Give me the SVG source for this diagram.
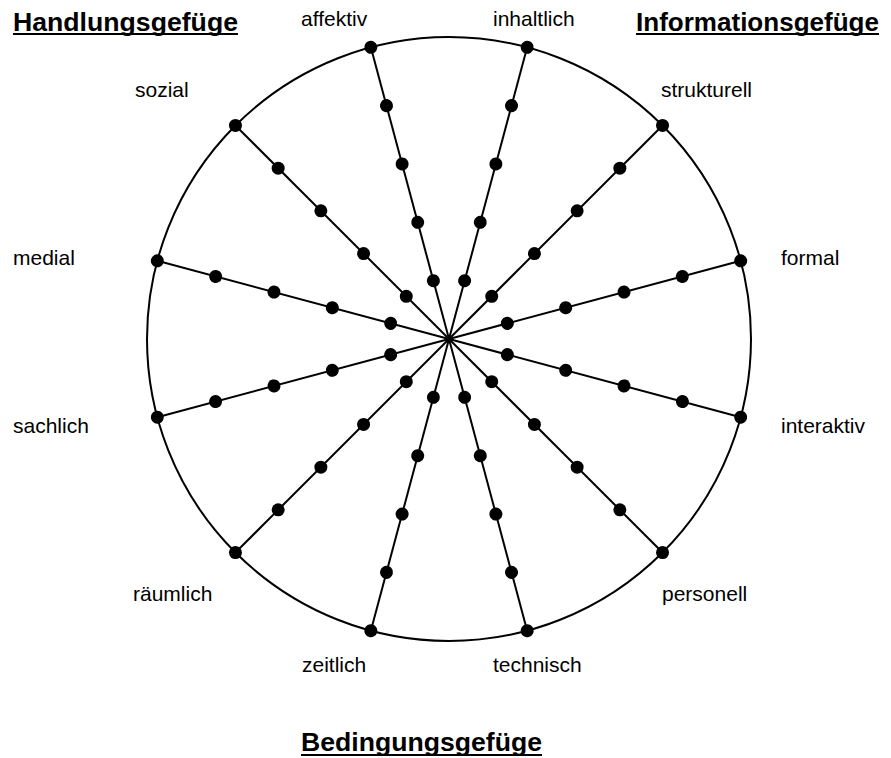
<svg xmlns="http://www.w3.org/2000/svg" xmlns:xlink="http://www.w3.org/1999/xlink" width="891" height="758" viewBox="0 0 891 758">
  <style>
    .ln { stroke: #000; stroke-width: 2; fill: none; }
    .dot { fill: #000; }
    .lbl { font-family: "Liberation Sans", Arial, sans-serif; font-size: 21px; fill: #000; }
    .ttl { font-family: "Liberation Sans", Arial, sans-serif; font-size: 26px; font-weight: bold; fill: #000; }
    .ul { stroke: #000; stroke-width: 2.2; }
  </style>
  <defs>
    <g id="dots">
      <circle class="dot" cx="60.4" cy="0" r="6.5"/>
      <circle class="dot" cx="120.8" cy="0" r="6.5"/>
      <circle class="dot" cx="181.2" cy="0" r="6.5"/>
      <circle class="dot" cx="241.6" cy="0" r="6.5"/>
      <circle class="dot" cx="302" cy="0" r="6.5"/>
    </g>
  </defs>
  <rect width="891" height="758" fill="#fff"/>

  <g id="connectors" transform="translate(449,339)">
    <circle class="ln" cx="0" cy="0" r="302"/>
    <line class="ln" x1="0" y1="0" x2="302" y2="0" transform="rotate(-15)"/>
    <line class="ln" x1="0" y1="0" x2="302" y2="0" transform="rotate(-45)"/>
    <line class="ln" x1="0" y1="0" x2="302" y2="0" transform="rotate(-75)"/>
    <line class="ln" x1="0" y1="0" x2="302" y2="0" transform="rotate(-105)"/>
    <line class="ln" x1="0" y1="0" x2="302" y2="0" transform="rotate(-135)"/>
    <line class="ln" x1="0" y1="0" x2="302" y2="0" transform="rotate(-165)"/>
    <line class="ln" x1="0" y1="0" x2="302" y2="0" transform="rotate(-195)"/>
    <line class="ln" x1="0" y1="0" x2="302" y2="0" transform="rotate(-225)"/>
    <line class="ln" x1="0" y1="0" x2="302" y2="0" transform="rotate(-255)"/>
    <line class="ln" x1="0" y1="0" x2="302" y2="0" transform="rotate(-285)"/>
    <line class="ln" x1="0" y1="0" x2="302" y2="0" transform="rotate(-315)"/>
    <line class="ln" x1="0" y1="0" x2="302" y2="0" transform="rotate(-345)"/>
  </g>

  <g id="formal">
    <use xlink:href="#dots" href="#dots" transform="translate(449,339) rotate(-15)"/>
    <text class="lbl" x="781" y="265">formal</text>
  </g>
  <g id="strukturell">
    <use xlink:href="#dots" href="#dots" transform="translate(449,339) rotate(-45)"/>
    <text class="lbl" x="661" y="97">strukturell</text>
  </g>
  <g id="inhaltlich">
    <use xlink:href="#dots" href="#dots" transform="translate(449,339) rotate(-75)"/>
    <text class="lbl" x="493" y="26">inhaltlich</text>
  </g>
  <g id="affektiv">
    <use xlink:href="#dots" href="#dots" transform="translate(449,339) rotate(-105)"/>
    <text class="lbl" x="301" y="26">affektiv</text>
  </g>
  <g id="sozial">
    <use xlink:href="#dots" href="#dots" transform="translate(449,339) rotate(-135)"/>
    <text class="lbl" x="135" y="97">sozial</text>
  </g>
  <g id="medial">
    <use xlink:href="#dots" href="#dots" transform="translate(449,339) rotate(-165)"/>
    <text class="lbl" x="13" y="265">medial</text>
  </g>
  <g id="sachlich">
    <use xlink:href="#dots" href="#dots" transform="translate(449,339) rotate(-195)"/>
    <text class="lbl" x="13" y="433">sachlich</text>
  </g>
  <g id="raeumlich">
    <use xlink:href="#dots" href="#dots" transform="translate(449,339) rotate(-225)"/>
    <text class="lbl" x="133" y="601">räumlich</text>
  </g>
  <g id="zeitlich">
    <use xlink:href="#dots" href="#dots" transform="translate(449,339) rotate(-255)"/>
    <text class="lbl" x="302" y="672">zeitlich</text>
  </g>
  <g id="technisch">
    <use xlink:href="#dots" href="#dots" transform="translate(449,339) rotate(-285)"/>
    <text class="lbl" x="493" y="672">technisch</text>
  </g>
  <g id="personell">
    <use xlink:href="#dots" href="#dots" transform="translate(449,339) rotate(-315)"/>
    <text class="lbl" x="662" y="601">personell</text>
  </g>
  <g id="interaktiv">
    <use xlink:href="#dots" href="#dots" transform="translate(449,339) rotate(-345)"/>
    <text class="lbl" x="781" y="433">interaktiv</text>
  </g>

  <g id="title-handlung">
    <text class="ttl" x="13" y="31" textLength="225" lengthAdjust="spacingAndGlyphs">Handlungsgefüge</text>
    <line class="ul" x1="13" y1="34" x2="238" y2="34"/>
  </g>
  <g id="title-information">
    <text class="ttl" x="636" y="31" textLength="243" lengthAdjust="spacingAndGlyphs">Informationsgefüge</text>
    <line class="ul" x1="636" y1="34" x2="879" y2="34"/>
  </g>
  <g id="title-bedingung">
    <text class="ttl" x="301" y="751" textLength="241" lengthAdjust="spacingAndGlyphs">Bedingungsgefüge</text>
    <line class="ul" x1="301" y1="755" x2="542" y2="755"/>
  </g>
</svg>
